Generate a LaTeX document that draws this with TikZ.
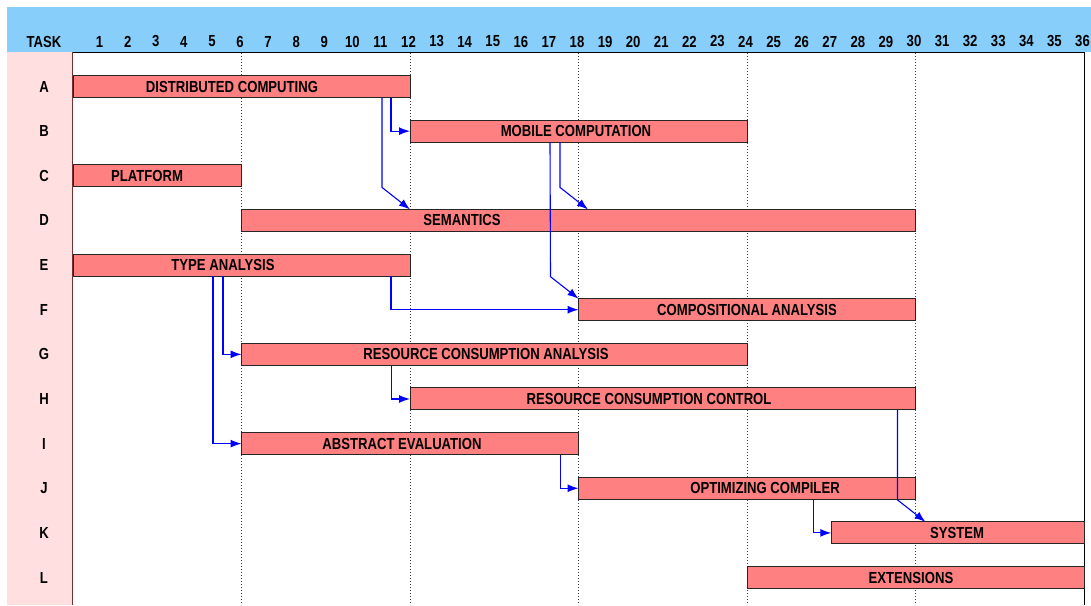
\documentclass[tikz,border=0pt]{standalone}
\usepackage{fontspec}
\setmainfont{Liberation Sans}[FakeStretch=0.82]
\usetikzlibrary{arrows.meta,calc}
\definecolor{headblue}{RGB}{135,206,250}
\definecolor{taskpink}{RGB}{255,223,223}
\definecolor{barred}{RGB}{255,128,128}
\definecolor{edgebrown}{RGB}{110,50,50}

\begin{document}
\begin{tikzpicture}[
    x=1pt, y=-1pt,
    every node/.style={font=\fontsize{16}{18}\selectfont\bfseries, inner sep=0pt, outer sep=0pt},
    taskbar/.style={draw=black!85, line width=1pt, fill=barred, anchor=west, minimum height=22pt},
    gridline/.style={black!75, line width=0.8pt, dash pattern=on 1pt off 2pt},
    dep/.style={-{Latex[length=11pt,width=8pt]}, blue, line width=1.1pt}
]
\useasboundingbox (0,0) rectangle (1091,605);

% header band and task column
\fill[headblue] (7,7) rectangle (1091,52);
\fill[taskpink] (7,52) rectangle (72.5,605);

\foreach \m in {6,12,18,24,30}
    \draw[gridline] ({73+\m*28.083},53) -- ({73+\m*28.083},605);
\draw[black, line width=1pt] (73,52.5) -- (1084,52.5) -- (1084,605);
\draw[edgebrown, line width=1pt] (72.5,52) -- (72.5,605);

\node (taskhead) at (44,41.5) {TASK};
\foreach \m in {1,...,36}
    \node (month\m) at ({73+\m*28.083-1.5},41.5) {\m};
\foreach \l [count=\r from 0] in {A,B,C,D,E,F,G,H,I,J,K,L}
    \node (row\l) at (44,{86.5+\r*44.64}) {\l};

% bars: name/row/first month/last month/label x/label
\foreach \id/\row/\from/\to/\tx/\txt in {
    A/0/1/12/232/DISTRIBUTED COMPUTING,
    B/1/13/24/576/MOBILE COMPUTATION,
    C/2/1/6/147/PLATFORM,
    D/3/7/30/462/SEMANTICS,
    E/4/1/12/223/TYPE ANALYSIS,
    F/5/19/30/747/COMPOSITIONAL ANALYSIS,
    G/6/7/24/486/RESOURCE CONSUMPTION ANALYSIS,
    H/7/13/30/649/RESOURCE CONSUMPTION CONTROL,
    I/8/7/18/402/ABSTRACT EVALUATION,
    J/9/19/30/765/OPTIMIZING COMPILER,
    K/10/28/36/957/SYSTEM,
    L/11/25/36/911/EXTENSIONS}{
    \node[taskbar, minimum width={(\to-\from+1)*28.083pt}] (task\id)
        at ({73+(\from-1)*28.083},{86.5+\row*44.64}) {};
    \node (lab\id) at (\tx,{86.5+\row*44.64}) {\txt};
}

\draw[dep] ([xshift=-19pt]taskA.south east) |- (taskB.west);
\draw[dep] ([xshift=-28pt]taskA.south east) -- ($(taskA.south east |- taskD.north)+(-28,-22)$) -- (taskA.south east |- taskD.north);
\draw[dep] ([xshift=140pt]taskB.south west) -- ($(taskF.north west)+(-28,-22)$) -- (taskF.north west);
\draw[dep] ([xshift=150pt]taskB.south west) -- ($(taskB.south west |- taskD.north)+(150,-22)$) -- ($(taskB.south west |- taskD.north)+(178,0)$);
\draw[dep] ([xshift=150pt]taskE.south west) |- (taskG.west);
\draw[dep] ([xshift=140pt]taskE.south west) |- (taskI.west);
\draw[dep] ([xshift=-19pt]taskE.south east) |- (taskF.west);
\draw[dep] ([xshift=150pt]taskG.south west) |- (taskH.west);
\draw[dep] ([xshift=-18pt]taskI.south east) |- (taskJ.west);
\draw[dep] ([xshift=235pt]taskJ.south west) |- (taskK.west);
\draw[dep] ([xshift=-18pt]taskH.south east) -- ($(taskH.south east |- taskK.north)+(-18,-22)$) -- ($(taskH.south east |- taskK.north)+(10,0)$);

\end{tikzpicture}
\end{document}
